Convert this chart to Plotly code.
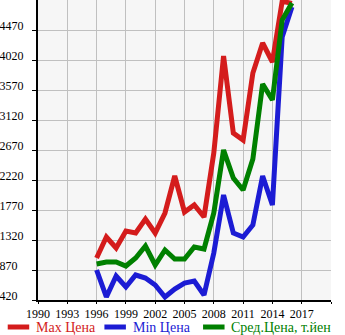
import plotly.graph_objects as go

# Years covered by the price series
years = list(range(1996, 2017))

# Prices, thousand yen
max_price = [1050, 1365, 1200, 1455, 1425, 1635, 1425, 1725, 2280, 1740, 1845,
             1665, 2625, 4080, 2925, 2820, 3825, 4275, 3990, 4900, 4870]
min_price = [870, 465, 780, 615, 795, 750, 645, 465, 585, 675, 705,
             495, 1125, 1995, 1425, 1365, 1545, 2280, 1845, 4365, 4815]
avg_price = [960, 990, 990, 930, 1050, 1230, 945, 1170, 1035, 1035, 1215,
             1185, 1725, 2670, 2250, 2070, 2535, 3660, 3420, 4620, 4875]

series_names = ["Max Цена", "Min Цена", "Сред.Цена, т.йен"]
series_colors = ["#d41c1c", "#1c1cd4", "#008000"]

x_ticks = [1990, 1993, 1996, 1999, 2002, 2005, 2008, 2011, 2014, 2017, 2020]
x_labels = ["1990", "1993", "1996", "1999", "2002", "2005", "2008", "2011", "2014", "2017", ""]
y_ticks = [420, 870, 1320, 1770, 2220, 2670, 3120, 3570, 4020, 4470]
# labels are left-aligned, so shorter ones get trailing padding
y_labels = [str(v) + ("\u2002" if v < 1000 else "") for v in y_ticks]

FONT = "Liberation Serif, Times New Roman, serif"

fig = go.Figure()
for name, vals, col in zip(series_names, [max_price, min_price, avg_price], series_colors):
    fig.add_trace(go.Scatter(
        x=years, y=vals, name=name, mode="lines",
        line=dict(color=col, width=5), showlegend=False,
    ))

# Legend row drawn beneath the axis
legend_slots = [0, 99, 200]
plot_left, plot_w, plot_h = 31, 300, 300
for name, col, px in zip(series_names, series_colors, legend_slots):
    x0 = (px - plot_left) / plot_w
    x1 = (px + 22 - plot_left) / plot_w
    y = -27 / plot_h
    fig.add_shape(type="line", xref="paper", yref="paper", x0=x0, x1=x1, y0=y, y1=y,
                  line=dict(color=col, width=5))
    fig.add_annotation(xref="paper", yref="paper", x=(px + 27 - plot_left) / plot_w, y=y,
                       text=name, showarrow=False, xanchor="left", yanchor="middle",
                       font=dict(family=FONT, size=14, color=col))

fig.update_layout(
    width=345, height=335,
    margin=dict(l=31, r=14, t=0, b=35),
    paper_bgcolor="white",
    plot_bgcolor="#f6f6f6",
    font=dict(family=FONT, size=12, color="black"),
    xaxis=dict(
        range=[1990, 2020], tickmode="array", tickvals=x_ticks, ticktext=x_labels,
        showgrid=True, gridcolor="#c0c0c0", gridwidth=1,
        showline=True, linecolor="black", linewidth=2,
        ticks="outside", ticklen=2, tickwidth=1, tickcolor="black",
        ticklabelstandoff=0,
        zeroline=False, tickfont=dict(family=FONT, size=12),
    ),
    yaxis=dict(
        range=[420, 4920], tickmode="array", tickvals=y_ticks, ticktext=y_labels,
        showgrid=True, gridcolor="#c0c0c0", gridwidth=1,
        showline=True, linecolor="black", linewidth=2,
        ticks="outside", ticklen=4, tickwidth=1, tickcolor="black",
        ticklabelstandoff=6, ticklabelshift=-4,
        zeroline=False, tickfont=dict(family=FONT, size=12),
    ),
)

fig.write_html("out.html")
